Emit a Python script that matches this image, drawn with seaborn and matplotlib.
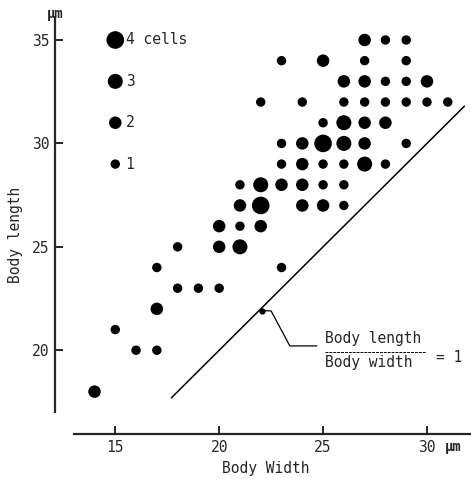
import matplotlib
matplotlib.use("Agg")
import matplotlib.pyplot as plt
import matplotlib.transforms as mtransforms
import pandas as pd
import seaborn as sns

# body width / body length (um) and number of cells at each point
width = [27, 28, 29,
         23, 25, 27, 29,
         26, 27, 28, 29, 30,
         22, 24, 26, 27, 28, 29, 30, 31,
         25, 26, 27, 28,
         23, 24, 25, 26, 27, 29,
         23, 24, 25, 26, 27, 28,
         21, 22, 23, 24, 25, 26,
         21, 22, 24, 25, 26,
         20, 21, 22,
         18, 20, 21,
         17, 23,
         18, 19, 20,
         17,
         15,
         16, 17,
         14]
length = [35, 35, 35,
          34, 34, 34, 34,
          33, 33, 33, 33, 33,
          32, 32, 32, 32, 32, 32, 32, 32,
          31, 31, 31, 31,
          30, 30, 30, 30, 30, 30,
          29, 29, 29, 29, 29, 29,
          28, 28, 28, 28, 28, 28,
          27, 27, 27, 27, 27,
          26, 26, 26,
          25, 25, 25,
          24, 24,
          23, 23, 23,
          22,
          21,
          20, 20,
          18]
cells = [2, 1, 1,
         1, 2, 1, 1,
         2, 2, 1, 1, 2,
         1, 1, 1, 1, 1, 1, 1, 1,
         1, 3, 2, 2,
         1, 2, 4, 3, 2, 1,
         1, 2, 1, 1, 3, 1,
         1, 3, 2, 2, 1, 1,
         2, 4, 2, 2, 1,
         2, 1, 2,
         1, 2, 3,
         1, 1,
         1, 1, 1,
         2,
         1,
         1, 1,
         2]

# key in the upper left corner
key_width = [15, 15, 15, 15]
key_length = [35, 33, 31, 29]
key_cells = [4, 3, 2, 1]
key_labels = ["4 cells", "3", "2", "1"]

# ratio line (length = width) and the leader to its label
ratio_x = [17.7, 31.8]
leader_x = [22.05, 22.5, 23.4, 24.7]
leader_y = [21.92, 21.9, 20.21, 20.21]

x_ticks = [15, 20, 25, 30]
y_ticks = [20, 25, 30, 35]

dot_sizes = {1: 46, 2: 81, 3: 117, 4: 161}

df = pd.DataFrame({"width": width, "length": length, "cells": cells})
key = pd.DataFrame({"width": key_width, "length": key_length, "cells": key_cells})

sns.set_style("ticks")
mono = "DejaVu Sans Mono"
plt.rcParams["font.family"] = [mono]

fig = plt.figure(figsize=(4.71, 4.79), dpi=100)
ax = fig.add_axes([0.1168, 0.0939, 0.8824, 0.8658])

sns.scatterplot(data=df, x="width", y="length", size="cells", sizes=dot_sizes,
                color="black", linewidth=0, legend=False, ax=ax)
sns.scatterplot(data=key, x="width", y="length", size="cells", sizes=dot_sizes,
                color="black", linewidth=0, legend=False, ax=ax)
for yy, lab in zip(key_length, key_labels):
    ax.text(15.5, yy, lab, fontsize=10.5, va="center", ha="left")

ax.plot(ratio_x, ratio_x, color="black", lw=1.1)
ax.plot(leader_x, leader_y, color="black", lw=0.9)
ax.plot(leader_x[:1], leader_y[:1], marker="o", ms=3.5, color="black")

ax.text(25.1, 20.58, "Body length", fontsize=10.5, ha="left", va="center")
ax.plot([25.1, 29.95], [19.93, 19.93], color="black", lw=0.7, ls=(0, (3, 1)))
ax.text(25.1, 19.4, "Body width", fontsize=10.5, ha="left", va="center")
ax.text(30.45, 19.66, "= 1", fontsize=10.5, ha="left", va="center")

ax.set_xlim(12.1, 32.1)
ax.set_ylim(15.95, 36.0)
ax.set_xticks(x_ticks)
ax.set_yticks(y_ticks)
ax.tick_params(direction="in", length=6, width=1.4, labelsize=10.5, pad=4)

for side in ["top", "right"]:
    ax.spines[side].set_visible(False)
ax.spines["left"].set_linewidth(1.6)
ax.spines["bottom"].set_linewidth(1.6)
ax.spines["left"].set_bounds(17, 36)
ax.spines["bottom"].set_bounds(13, 32.1)

ax.set_xlabel("Body Width", fontsize=10.5)
ax.set_ylabel("Body length", fontsize=10.5)
ax.xaxis.set_label_coords(0.507, -0.065)
ax.yaxis.set_label_coords(-0.078, 0.48)

ax.text(0.0, 1.012, "\u03bcm", transform=ax.transAxes, fontsize=10,
        fontweight="bold", ha="center", va="center")
blend = mtransforms.blended_transform_factory(ax.transData, ax.transAxes)
ax.text(31.25, -0.032, "\u03bcm", transform=blend, fontsize=10,
        fontweight="bold", ha="center", va="center")

fig.savefig("out.png", dpi=100)
